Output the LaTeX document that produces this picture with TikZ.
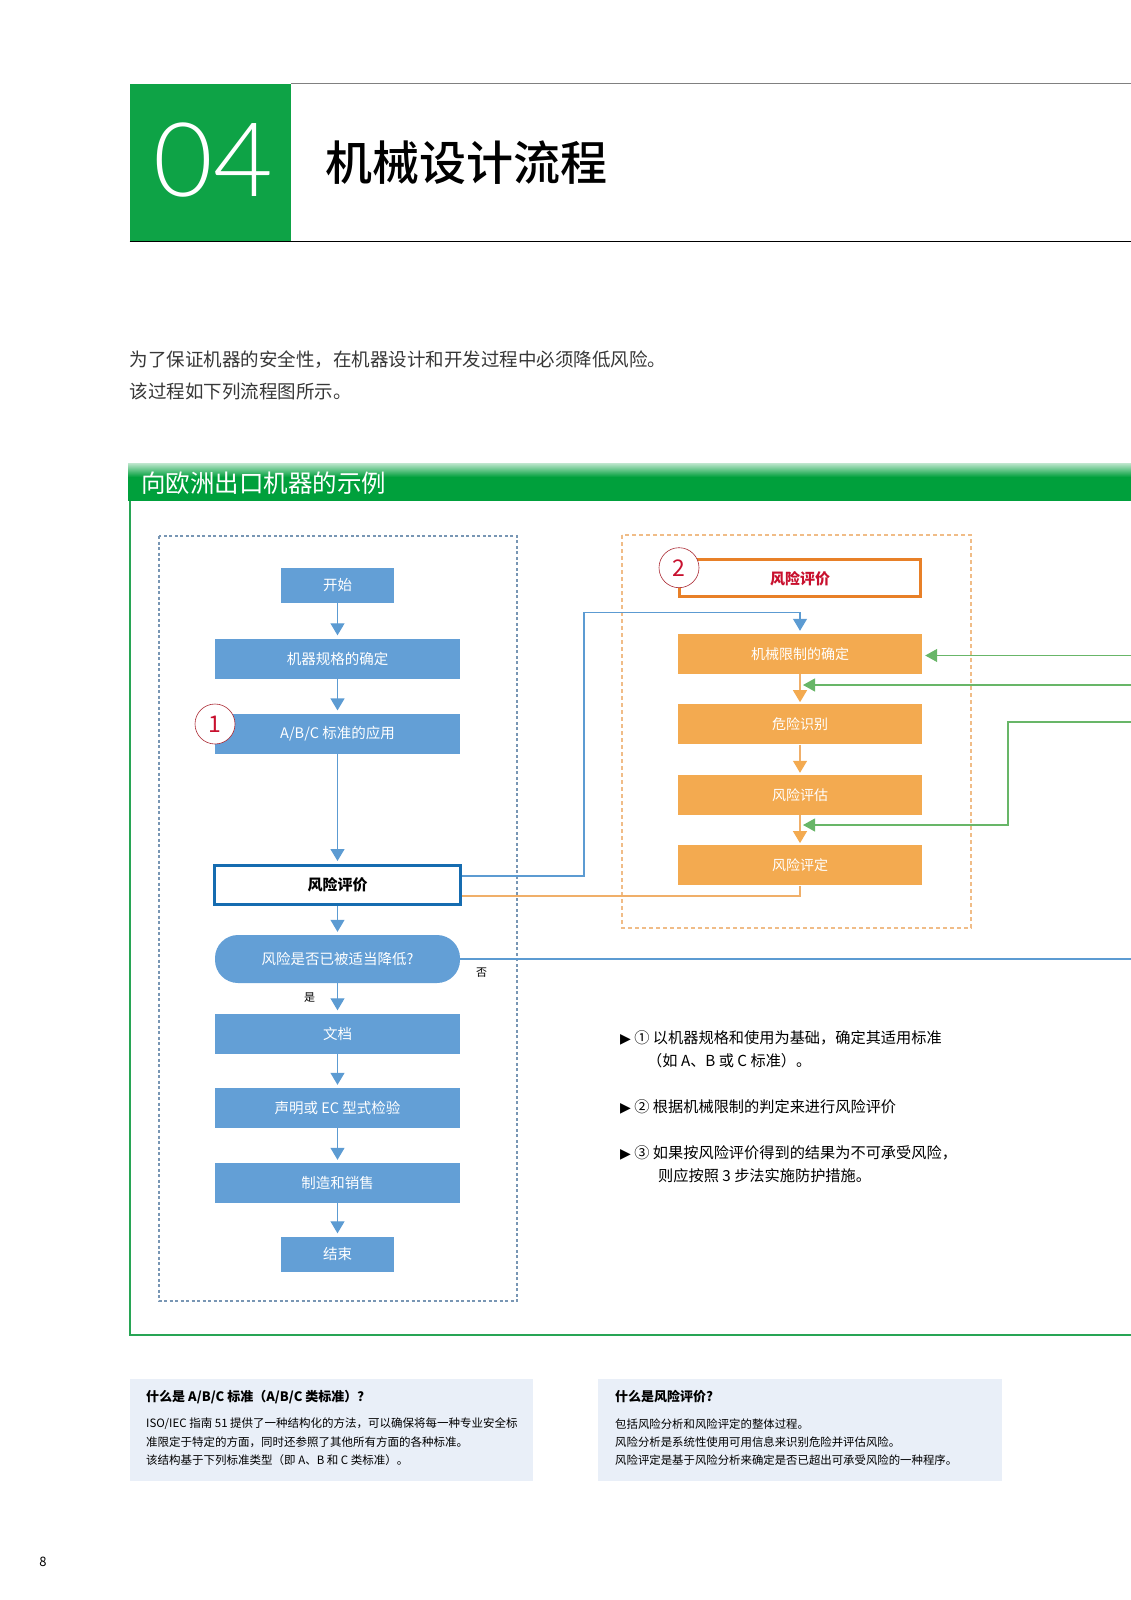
\documentclass[tikz,border=0pt]{standalone}
\usepackage{fontspec}
\setmainfont{Noto Sans CJK SC}
\newfontfamily\symfont{DejaVu Sans}
\IfFontExistsTF{Lato Light}{\newfontfamily\numfont{Lato Light}}{\newfontfamily\numfont{Lato}}
\IfFontExistsTF{Noto Sans CJK SC Medium}{\newfontfamily\titlefont{Noto Sans CJK SC Medium}}{\newcommand\titlefont{\bfseries}}
\usetikzlibrary{arrows.meta}

\definecolor{headgreen}{RGB}{14,163,70}
\definecolor{secgreen}{RGB}{0,160,60}
\definecolor{framegreen}{RGB}{40,165,85}
\definecolor{boxblue}{RGB}{99,159,214}
\definecolor{lineblue}{RGB}{92,155,210}
\definecolor{evalblue}{RGB}{22,108,176}
\definecolor{dashblue}{RGB}{120,150,180}
\definecolor{boxorange}{RGB}{243,170,80}
\definecolor{lineorange}{RGB}{240,175,105}
\definecolor{darkorange}{RGB}{232,128,40}
\definecolor{dashorange}{RGB}{240,188,135}
\definecolor{riskred}{RGB}{200,16,46}
\definecolor{circred}{RGB}{170,40,50}
\definecolor{arrgreen}{RGB}{104,182,104}
\definecolor{notefill}{RGB}{233,239,248}
\definecolor{textgray}{RGB}{55,55,55}

\newcommand\fsz[1]{\fontsize{#1}{#1}\selectfont}

\begin{document}
\begin{tikzpicture}[x=1pt,y=-1pt,
    bluebox/.style={fill=boxblue, text=white, minimum width=245pt, minimum height=40pt, inner sep=0pt, font=\fsz{14.5}},
    endbox/.style={bluebox, minimum width=113pt, minimum height=35pt},
    evalbox/.style={draw=evalblue, line width=3pt, fill=white, minimum width=246pt, minimum height=39pt, inner sep=0pt, font=\bfseries\fsz{15}},
    askbox/.style={bluebox, rounded corners=23pt, minimum height=48pt},
    orangebox/.style={fill=boxorange, text=white, minimum width=244pt, minimum height=40pt, inner sep=0pt, font=\fsz{14}},
    headbox/.style={draw=darkorange, line width=3pt, fill=white, minimum width=241pt, minimum height=37pt, inner sep=0pt, text=riskred, font=\bfseries\fsz{15}},
    numcircle/.style={circle, draw=circred, line width=0.6pt, fill=white, minimum size=40pt, inner sep=0pt, text=riskred, font=\fsz{23}},
    barr/.style={draw=lineblue, line width=1.2pt, -{Triangle[width=14pt,length=12pt,color=lineblue]}, shorten >=3pt},
    oarr/.style={draw=lineorange, line width=1.2pt, -{Triangle[width=14pt,length=12pt,color=boxorange]}, shorten >=2pt},
    garr/.style={draw=arrgreen, line width=1.2pt, -{Triangle[width=13pt,length=12pt,color=arrgreen]}, shorten >=3pt},
    bline/.style={draw=lineblue, line width=1.2pt},
    oline/.style={draw=lineorange, line width=1.6pt},
    label/.style={anchor=west, inner sep=0pt},
    note/.style={label, font=\fsz{15.2}},
    small/.style={label, font=\fsz{11}}]

    \useasboundingbox (0,0) rectangle (1131,1600);

    % page head
    \fill[headgreen] (129.7,83.7) rectangle (291,241);
    \draw[gray, line width=1pt] (291,83.7) -- (1131,83.7);
    \draw[black, line width=1pt] (129.7,241) -- (1131,241);
    \node[text=white, font=\numfont\fsz{103}] (chap) at (213,160) {04};
    \node[label, font=\titlefont\fsz{47}] (title) at (325,163) {机械设计流程};

    \node[label, text=textgray, font=\fsz{18.5}] (intro1) at (129.7,359.4) {为了保证机器的安全性，在机器设计和开发过程中必须降低风险。};
    \node[label, text=textgray, font=\fsz{18.5}] (intro2) at (129.7,391) {该过程如下列流程图所示。};

    % section bar and frame
    \fill[secgreen] (128,463) rectangle (1131,501);
    \shade[top color=secgreen!25, bottom color=secgreen] (128,463) rectangle (1131,477);
    \node[label, text=white, font=\fsz{24.5}] (sec) at (141,483) {向欧洲出口机器的示例};
    \draw[framegreen, line width=1.5pt] (130,501) -- (130,1335) -- (1131,1335);

    \draw[dashblue, line width=1.2pt, dash pattern=on 3pt off 2.5pt] (159,536) rectangle (517,1301);
    \draw[dashorange, line width=1.2pt, dash pattern=on 4pt off 3pt] (622,535) rectangle (971,928);

    % main flow
    \node[endbox] (start) at (337.5,585.5) {开始};
    \node[bluebox] (spec) at (337.5,658.5) {机器规格的确定};
    \node[bluebox] (abc) at (337.5,733.6) {A/B/C 标准的应用};
    \node[evalbox] (eval) at (337.5,885) {风险评价};
    \node[askbox] (ask) at (337.5,959) {风险是否已被适当降低?};
    \node[bluebox] (doc) at (337.5,1033.5) {文档};
    \node[bluebox] (decl) at (337.5,1108) {声明或 EC 型式检验};
    \node[bluebox] (sale) at (337.5,1183) {制造和销售};
    \node[endbox] (stop) at (337.5,1254) {结束};
    \node[numcircle] (one) at (215,724) {1};

    \draw[barr] (start.south) -- (spec.north);
    \draw[barr] (spec.south) -- (abc.north);
    \draw[barr] (abc.south) -- (eval.north);
    \draw[barr] (eval.south) -- (ask.north);
    \draw[barr] (ask.south) -- (doc.north);
    \draw[barr] (doc.south) -- (decl.north);
    \draw[barr] (decl.south) -- (sale.north);
    \draw[barr] (sale.south) -- (stop.north);

    \node[small] (yes) at (304,997.5) {是};
    \node[small] (no) at (476,973) {否};

    % risk assessment
    \node[headbox] (risk) at (800,578.4) {风险评价};
    \node[numcircle] (two) at (679,567.7) {2};
    \node[orangebox] (mech) at (800,654) {机械限制的确定};
    \node[orangebox] (hazard) at (800,724.4) {危险识别};
    \node[orangebox] (assess) at (800,795) {风险评估};
    \node[orangebox] (judge) at (800,865.3) {风险评定};

    \draw[oarr] (mech.south) -- (hazard.north);
    \draw[oarr] (hazard.south) -- (assess.north);
    \draw[oarr] (assess.south) -- (judge.north);

    \coordinate (bcorner) at (584,612.6);
    \draw[barr] ([yshift=9pt]eval.east) -| (bcorner) -| (mech.north);
    \draw[oline] (judge.south) |- ([yshift=-11pt]eval.east);

    \coordinate (nout) at (1131,959);
    \draw[bline] (ask.east) -- (nout);

    \coordinate (g1) at (1131,655.5);
    \coordinate (g2) at (1131,685);
    \coordinate (g3) at (1131,722);
    \coordinate (g3b) at (1008,825);
    \draw[garr] (g1) -- (g1 -| mech.east);
    \draw[garr] (g2) -- (g2 -| mech.south);
    \draw[garr] (g3) -| (g3b) -- (g3b -| assess.south);

    % notes
    \node[note] (n1) at (620,1038) {{\symfont\fsz{14}▶} ① 以机器规格和使用为基础，确定其适用标准};
    \node[note] (n1b) at (647,1061) {（如 A、B 或 C 标准）。};
    \node[note] (n2) at (620,1106.7) {{\symfont\fsz{14}▶} ② 根据机械限制的判定来进行风险评价};
    \node[note] (n3) at (620,1153) {{\symfont\fsz{14}▶} ③ 如果按风险评价得到的结果为不可承受风险，};
    \node[note] (n3b) at (658,1176) {则应按照 3 步法实施防护措施。};

    % boxes at the foot
    \fill[notefill] (130,1379) rectangle (533,1481);
    \fill[notefill] (598,1379) rectangle (1002,1481);
    \node[label, font=\bfseries\fsz{13}] (qa) at (146,1397) {什么是 A/B/C 标准（A/B/C 类标准）？};
    \node[label, font=\fsz{11.5}] (qa1) at (146,1424) {ISO/IEC 指南 51 提供了一种结构化的方法，可以确保将每一种专业安全标};
    \node[label, font=\fsz{11.5}] (qa2) at (146,1442) {准限定于特定的方面，同时还参照了其他所有方面的各种标准。};
    \node[label, font=\fsz{11.5}] (qa3) at (146,1460) {该结构基于下列标准类型（即 A、B 和 C 类标准）。};
    \node[label, font=\bfseries\fsz{13}] (qb) at (615,1397) {什么是风险评价?};
    \node[label, font=\fsz{11.4}] (qb1) at (615,1424) {包括风险分析和风险评定的整体过程。};
    \node[label, font=\fsz{11.4}] (qb2) at (615,1442) {风险分析是系统性使用可用信息来识别危险并评估风险。};
    \node[label, font=\fsz{11.4}] (qb3) at (615,1460) {风险评定是基于风险分析来确定是否已超出可承受风险的一种程序。};

    \node[font=\fsz{13}] (page) at (43,1562) {8};

\end{tikzpicture}
\end{document}
